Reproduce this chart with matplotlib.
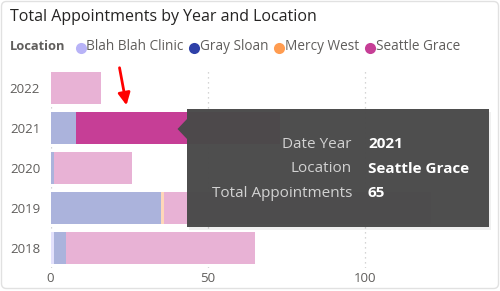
import matplotlib.pyplot as plt
from matplotlib.patches import FancyBboxPatch, Polygon, Rectangle
from matplotlib.colors import to_rgb

# data
years = ['2022', '2021', '2020', '2019', '2018']
locations = ['Blah Blah Clinic', 'Gray Sloan', 'Mercy West', 'Seattle Grace']
blah_blah = [0, 0, 0, 0, 1]
gray_sloan = [0, 8, 1, 35, 4]
mercy_west = [0, 0, 0, 1, 0]
seattle_grace = [16, 65, 25, 85, 60]
series = [blah_blah, gray_sloan, mercy_west, seattle_grace]
colors = ['#B8B3F7', '#2E40A8', '#FF9C50', '#C63E96']
xticks = [0, 50, 100]

# the selected point (shown in the tooltip)
sel_year = '2021'
sel_loc = 'Seattle Grace'


def faded(c, a=0.4):
    r, g, b = to_rgb(c)
    return (1 - a * (1 - r), 1 - a * (1 - g), 1 - a * (1 - b))


plt.rcParams['font.family'] = ['Open Sans', 'DejaVu Sans']
fig = plt.figure(figsize=(5, 2.91), dpi=100)

ax = fig.add_axes([50.5 / 500, 1 - 268 / 291, 437 / 500, 200 / 291])
ypos = list(range(len(years)))
left = [0] * len(years)
for loc, vals, col in zip(locations, series, colors):
    bar_cols = [col if (y == sel_year and loc == sel_loc) else faded(col) for y in years]
    ax.barh(ypos, vals, left=left, height=0.8, color=bar_cols, zorder=2)
    left = [l + v for l, v in zip(left, vals)]

ax.set_xlim(0, 139)
ax.set_ylim(len(years) - 0.5, -0.5)
ax.set_yticks(ypos)
ax.set_yticklabels(years)
ax.set_xticks(xticks)
ax.tick_params(length=0, colors='#605E5C', labelsize=9.5)
ax.tick_params(axis='y', pad=7.5)
ax.tick_params(axis='x', pad=3)
for t in ax.get_xticklabels() + ax.get_yticklabels():
    t.set_color('#605E5C')
ax.grid(axis='x', color='#C8C8C8', linestyle=(0, (1, 3)), linewidth=0.9, zorder=1)
for s in ax.spines.values():
    s.set_visible(False)

# overlay in pixel coordinates for card, title, legend, tooltip
ov = fig.add_axes([0, 0, 1, 1], zorder=5)
ov.set_xlim(0, 500)
ov.set_ylim(291, 0)
ov.axis('off')
ov.patch.set_alpha(0)

ov.add_patch(FancyBboxPatch((1.5, 1.5), 497, 287, boxstyle='round,pad=0,rounding_size=5',
                            fill=False, edgecolor='#E1E1E1', lw=1))

ov.text(10, 17, 'Total Appointments by Year and Location', fontsize=11.5,
        color='#252423', va='center', ha='left')

# legend laid out left to right
fig.canvas.draw()
r = fig.canvas.get_renderer()
t = ov.text(10, 47, 'Location', fontsize=9.3, fontweight='bold', color='#605E5C',
            va='center', ha='left')
x = t.get_window_extent(r).x1 + 10
for loc, col in zip(locations, colors):
    ov.plot(x + 5, 47.5, 'o', ms=8, color=col, mec='none')
    t = ov.text(x + 10.5, 47, loc, fontsize=9.8, color='#605E5C', va='center', ha='left')
    x = t.get_window_extent(r).x1 + 6

# red arrow pointing at the selected bar
ov.annotate('', xy=(127, 108), xytext=(119, 65),
            arrowprops=dict(arrowstyle='-|>', color='#FF0000', lw=2, mutation_scale=18))

# tooltip
ov.add_patch(Rectangle((189, 112), 302, 118, color='black', alpha=0.06, lw=0))
ov.add_patch(Rectangle((187, 109), 302, 118, color='#4A4A4A', alpha=0.975, lw=0))
ov.add_patch(Polygon([(177.5, 129), (187, 119), (187, 139)], closed=True,
                     color='#4A4A4A', alpha=0.975, lw=0))
si = years.index(sel_year)
tip_rows = [('Date Year', sel_year), ('Location', sel_loc),
            ('Total Appointments', str(seattle_grace[si]))]
for i, (k, v) in enumerate(tip_rows):
    yy = 144 + i * 24.7
    ov.text(352, yy, k, fontsize=11, color='#D2D2D2', ha='right', va='center')
    ov.text(368, yy, v, fontsize=11, color='white', fontweight='bold', ha='left', va='center')

fig.savefig('out.png', dpi=100)
